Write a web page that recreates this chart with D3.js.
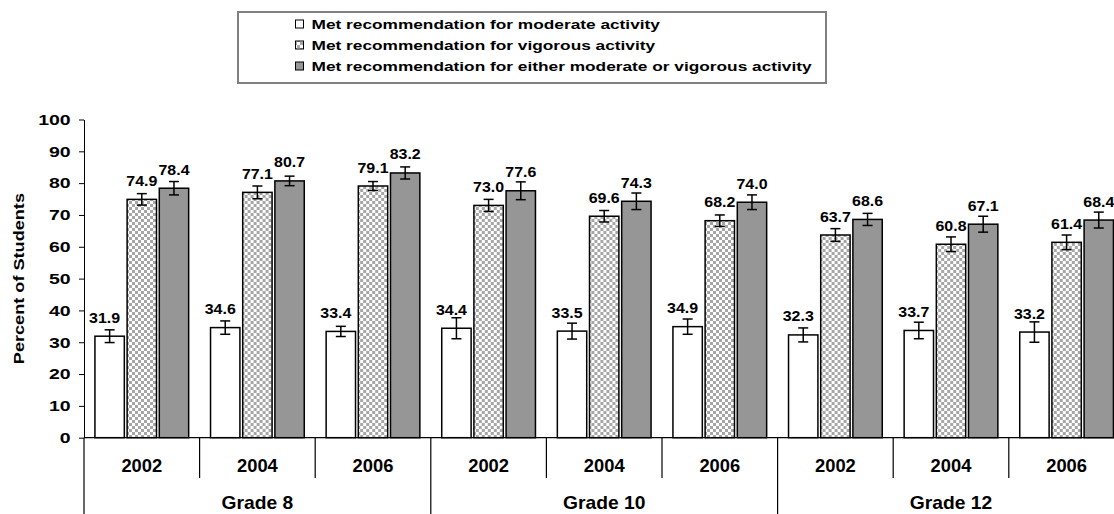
<!DOCTYPE html>
<html>
<head>
<meta charset="utf-8">
<script src="https://cdn.jsdelivr.net/npm/d3@7"></script>
<style>
  body { margin: 0; background: #fff; }
  svg { display: block; font-family: "Liberation Sans", Arial, sans-serif; font-weight: bold; }
</style>
</head>
<body>
<svg id="chart" width="1114" height="514"></svg>
<script>
var width = 1114,
   height = 514;

// data
var grades = ["Grade 8", "Grade 10", "Grade 12"];
var years = ["2002", "2004", "2006"];
var seriesNames = [
   "Met recommendation for moderate activity",
   "Met recommendation for vigorous activity",
   "Met recommendation for either moderate or vigorous activity"
];
var moderate = [31.9, 34.6, 33.4, 34.4, 33.5, 34.9, 32.3, 33.7, 33.2];
var vigorous = [74.9, 77.1, 79.1, 73.0, 69.6, 68.2, 63.7, 60.8, 61.4];
var either = [78.4, 80.7, 83.2, 77.6, 74.3, 74.0, 68.6, 67.1, 68.4];
// half width of the error bars
var moderateErr = [2.0, 2.1, 1.6, 3.3, 2.5, 2.4, 2.2, 2.6, 3.2];
var vigorousErr = [1.8, 2.0, 1.4, 1.9, 1.8, 1.8, 2.0, 2.3, 2.3];
var eitherErr = [2.1, 1.5, 1.9, 2.8, 2.6, 2.3, 1.9, 2.5, 2.5];
var yTicks = [0, 10, 20, 30, 40, 50, 60, 70, 80, 90, 100];

var values = [moderate, vigorous, either];
var errs = [moderateErr, vigorousErr, eitherErr];
var fills = ["#ffffff", "url(#checker)", "#969696"];

var groups = [];
grades.forEach(function (g, gi) {
   years.forEach(function (yr, yi) {
      groups.push({ key: g + "|" + yr, grade: g, year: yr, i: gi * 3 + yi });
   });
});

var svg = d3.select("svg#chart");

svg.append("rect").attr("width", width).attr("height", height).attr("fill", "#fff");

// checker pattern for the vigorous series
var pat = svg.append("defs").append("pattern")
   .attr("id", "checker")
   .attr("width", 6).attr("height", 6)
   .attr("patternUnits", "userSpaceOnUse");
pat.append("rect").attr("width", 6).attr("height", 6).attr("fill", "#ffffff");
pat.append("rect").attr("width", 3).attr("height", 3).attr("fill", "#a6a6a6");
pat.append("rect").attr("x", 3).attr("y", 3).attr("width", 3).attr("height", 3).attr("fill", "#a6a6a6");

// wide text helper: the original font is wider than Arial
function wideText(parent, x, y, sx, size, anchor, str, rot) {
   var g = parent.append("g")
      .attr("transform", "translate(" + x + "," + y + ")" + (rot ? " rotate(" + rot + ")" : "") + " scale(" + sx + ",1)");
   g.append("text")
      .attr("text-anchor", anchor)
      .style("font-size", size + "px")
      .text(str);
   return g;
}

//Scales
var x0 = d3.scaleBand()
   .domain(groups.map(function (d) { return d.key; }))
   .range([84, 84 + 9 * 115.6])
   .padding(0);

var x1 = d3.scaleBand()
   .domain([0, 1, 2])
   .range([0, x0.bandwidth()])
   .paddingInner(0.087)
   .paddingOuter(0.34);

var y = d3.scaleLinear().domain([0, 100]).range([437.7, 119.5]);

// y axis
var yAxis = svg.append("g")
   .attr("transform", "translate(84,0)")
   .call(d3.axisLeft(y).tickValues(yTicks).tickSize(5).tickSizeOuter(0).tickPadding(8));
yAxis.select(".domain").attr("stroke", "#000");
yAxis.selectAll(".tick line").attr("stroke", "#000");
yAxis.selectAll("text")
   .attr("fill", "#000")
   .attr("x", -13.3 / 1.3)
   .attr("transform", "scale(1.3,1)")
   .style("font-size", "15px")
   .style("font-family", "Liberation Sans, Arial, sans-serif")
   .style("font-weight", "bold");

wideText(svg, 24, y(50), 1.25, 14.5, "middle", "Percent of Students", -90);

// bars
var gGroup = svg.selectAll("g.group")
   .data(groups)
   .enter()
   .append("g")
   .attr("class", "group")
   .attr("transform", function (d) { return "translate(" + x0(d.key) + ",0)"; });

function cells(d) {
   return [0, 1, 2].map(function (s) {
      return { s: s, v: values[s][d.i], e: errs[s][d.i] };
   });
}

gGroup.selectAll("rect.bar")
   .data(cells)
   .enter()
   .append("rect")
   .attr("class", "bar")
   .attr("x", function (d) { return x1(d.s); })
   .attr("y", function (d) { return y(d.v); })
   .attr("width", x1.bandwidth())
   .attr("height", function (d) { return y(0) - y(d.v); })
   .attr("fill", function (d) { return fills[d.s]; })
   .attr("stroke", "#000")
   .attr("stroke-width", 1.5);

// error bars
var eb = gGroup.selectAll("g.err")
   .data(cells)
   .enter()
   .append("g")
   .attr("class", "err")
   .attr("stroke", "#000")
   .attr("stroke-width", 1.5);

eb.append("line")
   .attr("x1", function (d) { return x1(d.s) + x1.bandwidth() / 2; })
   .attr("x2", function (d) { return x1(d.s) + x1.bandwidth() / 2; })
   .attr("y1", function (d) { return y(d.v - d.e); })
   .attr("y2", function (d) { return y(d.v + d.e); });
[-1, 1].forEach(function (sign) {
   eb.append("line")
      .attr("x1", function (d) { return x1(d.s) + x1.bandwidth() / 2 - 5; })
      .attr("x2", function (d) { return x1(d.s) + x1.bandwidth() / 2 + 5; })
      .attr("y1", function (d) { return y(d.v + sign * d.e); })
      .attr("y2", function (d) { return y(d.v + sign * d.e); });
});

// value labels
gGroup.each(function (gd) {
   var g = d3.select(this);
   cells(gd).forEach(function (d) {
      wideText(g, x1(d.s) + x1.bandwidth() / 2 - (d.s === 0 ? 5 : 0), y(d.v) - 13.5,
         1.14, 14, "middle", d.v.toFixed(1));
   });
});

// baseline across the plot
svg.append("line")
   .attr("x1", 84).attr("x2", x0.range()[1])
   .attr("y1", y(0)).attr("y2", y(0))
   .attr("stroke", "#000").attr("stroke-width", 1.2);

// category separators
groups.forEach(function (d, k) {
   var xx = x0(d.key);
   svg.append("line")
      .attr("x1", xx).attr("x2", xx)
      .attr("y1", y(0)).attr("y2", k % 3 === 0 ? 514 : 478)
      .attr("stroke", "#000").attr("stroke-width", 1.2);
   wideText(svg, xx + x0.bandwidth() / 2, 472, 1.02, 18, "middle", d.year);
});

grades.forEach(function (g, gi) {
   wideText(svg, x0(groups[gi * 3 + 1].key) + x0.bandwidth() / 2, 509, 1.1, 17.5, "middle", g);
});

// legend
var legend = svg.append("g");
legend.append("rect")
   .attr("x", 238).attr("y", 12)
   .attr("width", 588).attr("height", 71)
   .attr("fill", "#fff")
   .attr("stroke", "#808080")
   .attr("stroke-width", 2);

seriesNames.forEach(function (name, i) {
   var cy = 24 + i * 21;
   legend.append("rect")
      .attr("x", 295.5).attr("y", cy - 4)
      .attr("width", 8).attr("height", 8)
      .attr("fill", fills[i])
      .attr("stroke", "#000")
      .attr("stroke-width", 1);
   wideText(legend, 311.5, cy + 5, 1.28, 13.5, "start", name);
});
</script>
</body>
</html>
